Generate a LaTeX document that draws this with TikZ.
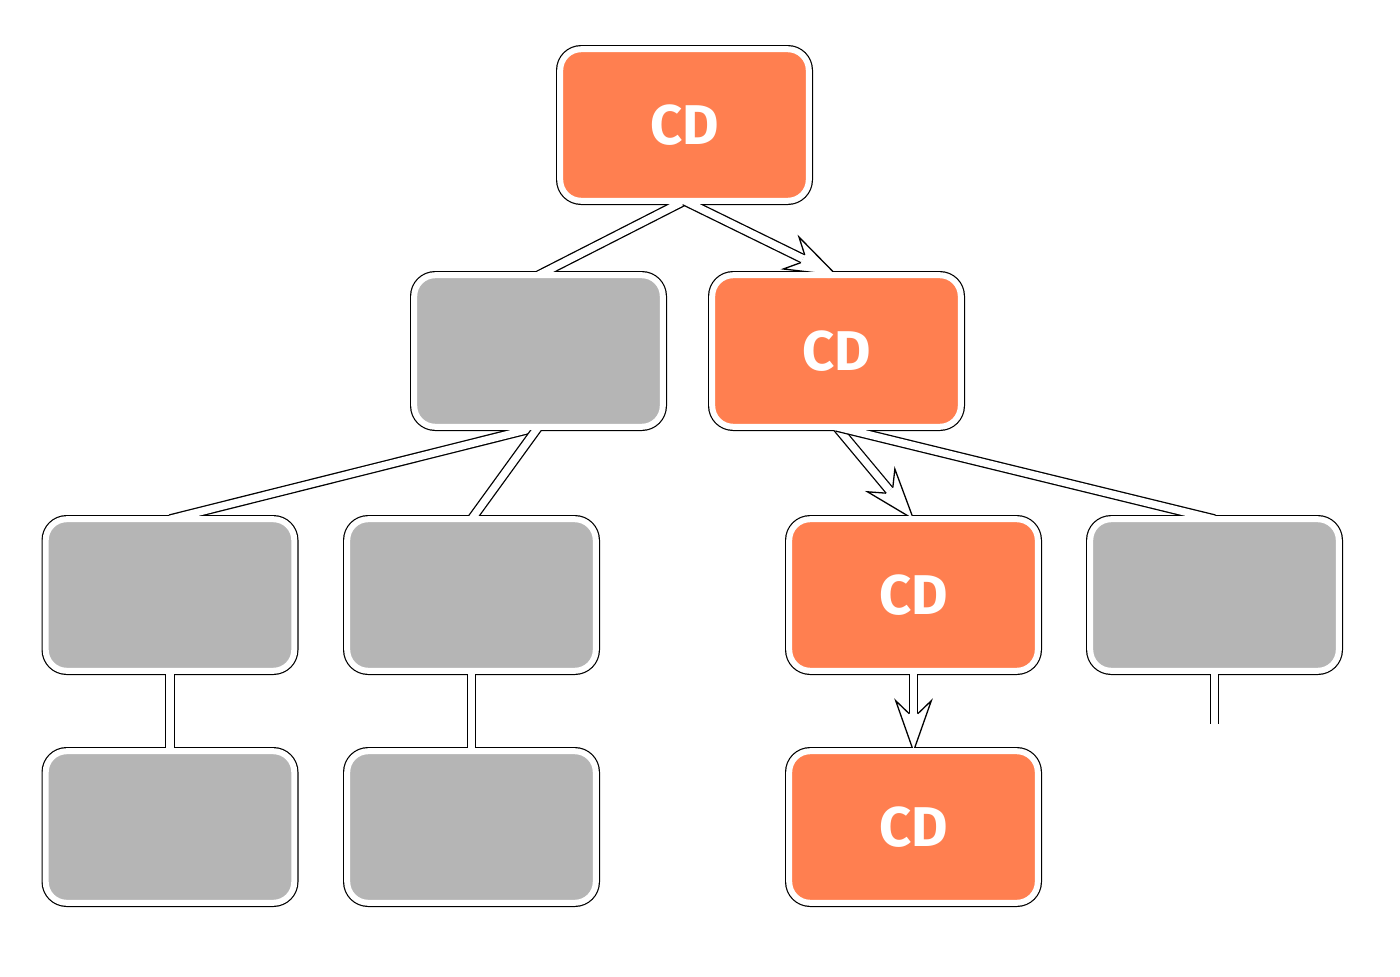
\documentclass[tikz,border=0pt]{standalone}
\usepackage{fontspec}
\newfontfamily\cdfont{Fira Sans}
\pgfdeclarelayer{bg}
\pgfdeclarelayer{fg}
\pgfsetlayers{bg,main,fg}
\definecolor{hot}{RGB}{255,127,80}
\definecolor{cold}{RGB}{181,181,181}
\newcommand\myarrowtip[4]{%
  \pgfmathanglebetweenpoints{\pgfpointanchor{#1}{#2}}{\pgfpointanchor{#3}{#4}}%
  \edef\myang{\pgfmathresult}%
  \begin{scope}[shift={(#3.#4)}, rotate=\myang]
    \fill[white] (0,0) -- (-50.5,17.8) -- (-37.5,4.3) -- (-37.5,-4.3) -- (-50.5,-17.8) -- cycle;
    \draw[black, line width=1.3pt, line join=miter, miter limit=20]
      (-37.5,4.3) -- (-50.5,17.8) -- (0,0) -- (-50.5,-17.8) -- (-37.5,-4.3);
  \end{scope}}
\begin{document}
\begin{tikzpicture}[x=1pt, y=1pt,
  box/.style={rectangle, rounded corners=21pt, minimum width=248.6pt,
    minimum height=151.6pt, inner sep=0pt, outer sep=0pt, draw=white,
    line width=6pt, text=white, font=\cdfont\bfseries\fontsize{56}{60}\selectfont},
  hotbox/.style={box, fill=hot},
  coldbox/.style={box, fill=cold},
  rim/.style={draw=black, line width=8.4pt, rounded corners=21pt},
  edge/.style={draw=black, line width=1.3pt, double=white, double distance=7.3pt},
  tipedge/.style={edge, shorten >=37.5pt}]
\useasboundingbox (0,0) rectangle (1400,-977);
\begin{pgfonlayer}{fg}
\node[hotbox]  (r)  at (684.5,-125) {CD};
\node[coldbox] (a)  at (538.5,-351) {};
\node[hotbox]  (b)  at (836.5,-351) {CD};
\node[coldbox] (c1) at (170,-595) {};
\node[coldbox] (c2) at (471.5,-595) {};
\node[hotbox]  (c3) at (913.5,-595) {CD};
\node[coldbox] (c4) at (1214.5,-595) {};
\node[coldbox] (d1) at (170,-827) {};
\node[coldbox] (d2) at (471.5,-827) {};
\node[hotbox]  (d3) at (913.5,-827) {CD};
\end{pgfonlayer}
\coordinate (stub) at (1214.5,-723.5);
\begin{pgfonlayer}{bg}
\foreach \n in {r,a,b,c1,c2,c3,c4,d1,d2,d3}
  \path[rim] (\n.south west) rectangle (\n.north east);
\end{pgfonlayer}
\draw[edge] (r.south) -- (a.north);
\draw[tipedge] (r.south) -- (b.north);
\myarrowtip{r}{south}{b}{north}
\draw[edge] (a.south) -- (c1.north);
\draw[edge] (a.south) -- (c2.north);
\draw[tipedge] (b.south) -- (c3.north);
\myarrowtip{b}{south}{c3}{north}
\draw[edge] (b.south) -- (c4.north);
\draw[edge] (c1.south) -- (d1.north);
\draw[edge] (c2.south) -- (d2.north);
\draw[tipedge] (c3.south) -- (d3.north);
\myarrowtip{c3}{south}{d3}{north}
\draw[edge] (c4.south) -- (stub);
\end{tikzpicture}
\end{document}
